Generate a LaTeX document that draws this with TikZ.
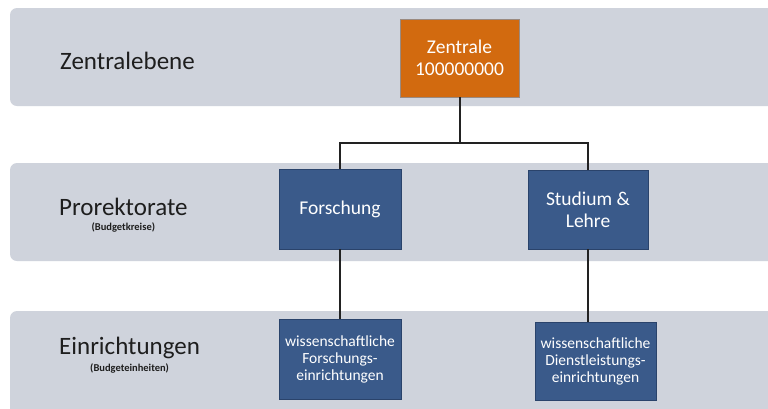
\documentclass[tikz,border=0pt]{standalone}
\usepackage{fontspec}
\setmainfont{Carlito}
\definecolor{bandgrey}{HTML}{CFD3DC}
\definecolor{boxblue}{HTML}{3A5A8A}
\definecolor{boxblueedge}{HTML}{2A436B}
\definecolor{boxorange}{HTML}{D26A0F}
\definecolor{boxorangeedge}{HTML}{9A8A80}
\definecolor{labeltext}{HTML}{1E1E1E}
\definecolor{linedark}{HTML}{222222}
\begin{document}
\begin{tikzpicture}[x=1pt,y=-1pt,
  band/.style={fill=bandgrey, rounded corners=7pt},
  levellabel/.style={anchor=center, text=labeltext, font=\fontsize{25}{28}\selectfont, inner sep=0pt},
  sublabel/.style={anchor=center, text=labeltext, font=\fontsize{10.5}{12}\selectfont\bfseries, inner sep=0pt},
  bluebox/.style={draw=boxblueedge, line width=0.8pt, fill=boxblue, text=white, align=center, inner sep=2pt},
  bigtext/.style={font=\fontsize{19.5}{22}\selectfont},
  smalltext/.style={font=\fontsize{15.5}{17}\selectfont},
  orangebox/.style={draw=boxorangeedge, line width=0.8pt, fill=boxorange, text=white, align=center, inner sep=2pt},
  conn/.style={draw=linedark, line width=2pt}
]
\clip (0,0) rectangle (768,408);
\fill[white] (0,0) rectangle (768,408);
% bands
\path[band] (10,8) rectangle (800,106);
\path[band] (10,163) rectangle (800,261);
\path[band] (10,311) rectangle (800,440);
% level labels
\node[levellabel, anchor=west] (lz) at (60,61) {Zentralebene};
\node[levellabel, anchor=west] (lp) at (59,207) {Prorektorate};
\node[sublabel] (lpsub) at (lp.center |- 0,227) {(Budgetkreise)};
\node[levellabel, anchor=west] (le) at (59,348) {Einrichtungen};
\node[sublabel] (lesub) at (le.center |- 0,368) {(Budgeteinheiten)};
% boxes
\node[orangebox, bigtext, minimum width=119pt, minimum height=78pt] (zentrale) at (459.5,58) {Zentrale\\100000000};
\node[bluebox, bigtext, minimum width=122pt, minimum height=80pt] (forschung) at (340,209) {Forschung};
\node[bluebox, bigtext, minimum width=120pt, minimum height=79pt] (studium) at (588,209.5) {Studium \&\\Lehre};
\node[bluebox, smalltext, minimum width=122pt, minimum height=80pt] (wfe) at (340,359) {wissenschaftliche\\Forschungs-\\einrichtungen};
\node[bluebox, smalltext, minimum width=121pt, minimum height=78pt] (wde) at (595.5,361) {wissenschaftliche\\Dienstleistungs-\\einrichtungen};
% connectors
\coordinate (junction) at (459.5,143);
\draw[conn] (zentrale.south) -- (junction);
\draw[conn] (junction) -| (forschung.north);
\draw[conn] (junction) -| (studium.north);
\draw[conn] (forschung.south) -- (wfe.north);
\draw[conn] (studium.south) -- (studium.south |- wde.north);
\end{tikzpicture}
\end{document}
